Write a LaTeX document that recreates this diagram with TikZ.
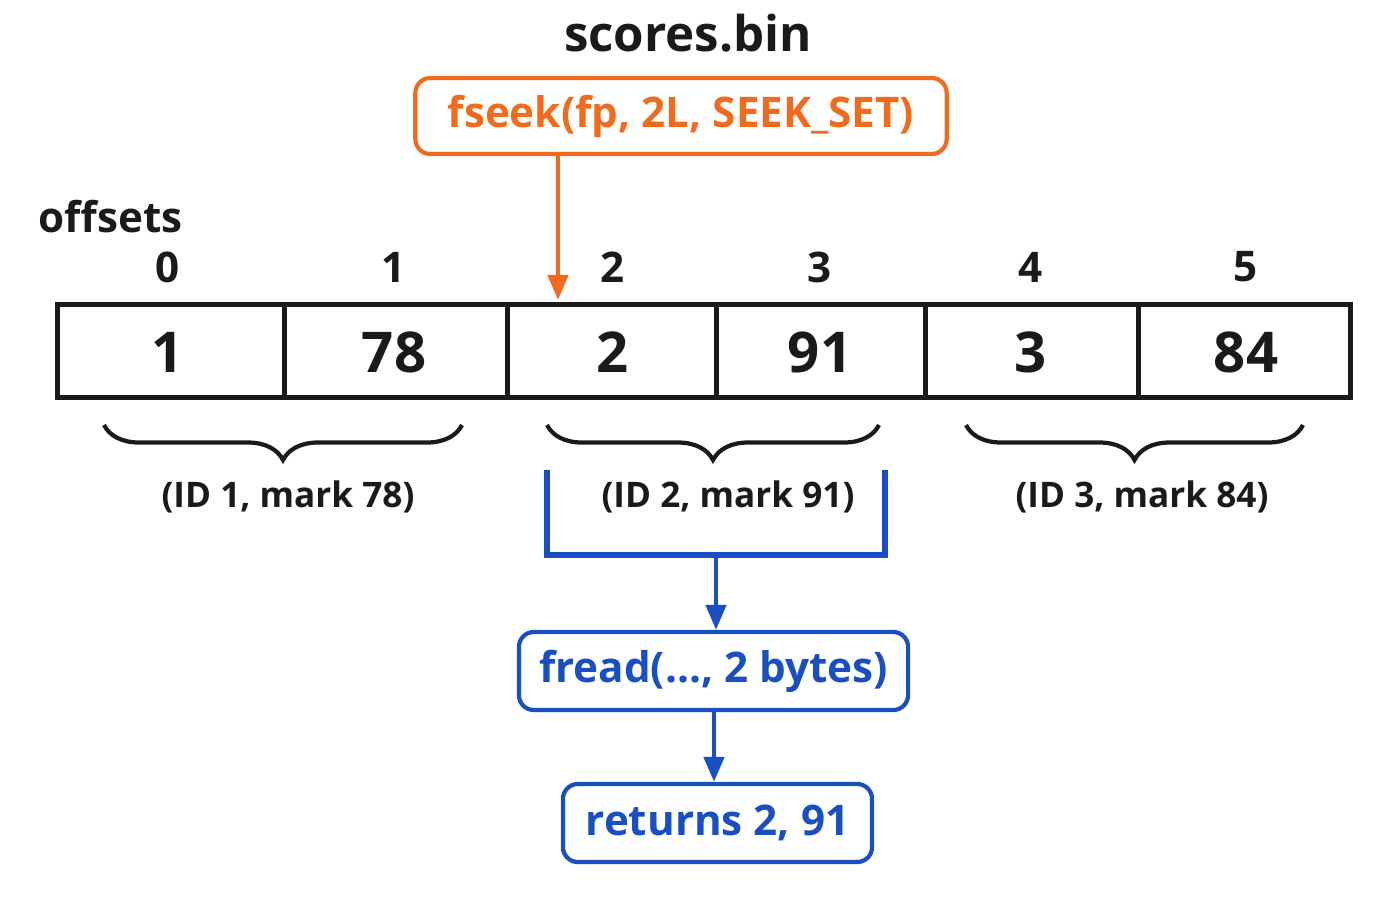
\documentclass[tikz,border=0pt]{standalone}
\usepackage{fontspec}
\setmainfont{Open Sans}
\usetikzlibrary{decorations.pathreplacing,arrows.meta}
\definecolor{org}{HTML}{F26B1D}
\definecolor{blu}{HTML}{1A4FC4}
\definecolor{ink}{HTML}{1A1A1A}
\begin{document}
\begin{tikzpicture}[x=0.01cm,y=-0.01cm,
  cell/.style={draw=ink,line width=1.4pt,minimum height=0.93cm,inner sep=0,font=\fontsize{16}{18}\selectfont\bfseries,text=ink},
  off/.style={font=\fontsize{12}{14}\selectfont\bfseries,text=ink},
  lab/.style={font=\fontsize{10}{12}\selectfont\bfseries,text=ink},
  br/.style={decorate,decoration={brace,mirror,amplitude=0.35cm},draw=ink,line width=1.2pt},
  obox/.style={draw=org,line width=1.2pt,rounded corners=0.15cm,text=org,font=\fontsize{12}{14}\selectfont\bfseries,minimum height=0.76cm},
  bbox/.style={draw=blu,line width=1.2pt,rounded corners=0.15cm,text=blu,font=\fontsize{12}{14}\selectfont\bfseries,minimum height=0.78cm},
  arr/.style={line width=1.3pt,-{Triangle[length=0.25cm,width=0.2cm]}}]
\useasboundingbox (0,0) rectangle (1400,900);
\node[font=\fontsize{14}{16}\selectfont\bfseries,text=ink] (title) at (688,33) {scores.bin};
\node[obox,minimum width=5.31cm] (fs) at (681,116) {fseek(fp, 2L, SEEK\_SET)};
\node[off,anchor=west,inner sep=0] (offl) at (38,217) {offsets};
\foreach \x/\w [count=\i] in {57/227,284/223,507/209,716/209,925/213,1138/212}{
  \node[cell,minimum width=\w*0.01cm,anchor=north west] (c\i) at (\x-2,302) {};
}
\foreach \x/\v [count=\i] in {168/1,394/78,613/2,820/91,1031/3,1246/84}{
  \node[cell,draw=none] (n\i) at (\x,352) {\v};
  \node[off] (o\i) at (\x,267) {\the\numexpr\i-1\relax};
}
\coordinate (tip) at (558,300);
\draw[arr,draw=org,fill=org] (fs.south -| tip) -- (tip);
\draw[br] (104,425) -- (462,425);
\draw[br] (547,425) -- (879,425);
\draw[br] (966,425) -- (1303,425);
\node[lab] (l1) at (288,497) {(ID 1, mark 78)};
\node[lab] (l2) at (728,497) {(ID 2, mark 91)};
\node[lab] (l3) at (1142,497) {(ID 3, mark 84)};
\coordinate (ba) at (547,470); \coordinate (bb) at (885,470);
\coordinate (bm) at (716,555);
\draw[blu,line width=1.6pt] (ba) -- (547,555) -- (885,555) -- (bb);
\node[bbox,minimum width=3.89cm] (fr) at (713.5,671) {fread(..., 2 bytes)};
\node[bbox,minimum width=3.09cm] (rt) at (717.5,823) {returns 2, 91};
\draw[arr,draw=blu,fill=blu] (bm) -- (bm |- fr.north);
\draw[arr,draw=blu,fill=blu] (fr.south -| 714,0) -- (714,0 |- rt.north);
\end{tikzpicture}
\end{document}
